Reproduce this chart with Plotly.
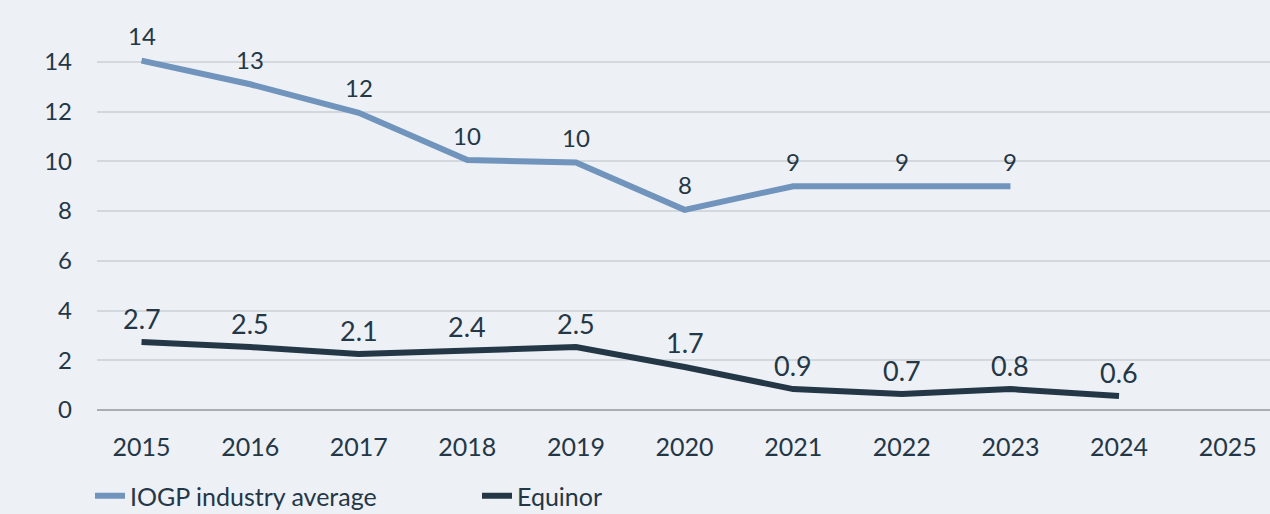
import plotly.graph_objects as go

years = [2015, 2016, 2017, 2018, 2019, 2020, 2021, 2022, 2023, 2024]
iogp_years = [2015, 2016, 2017, 2018, 2019, 2020, 2021, 2022, 2023]
iogp_values = [14.05, 13.1, 11.95, 10.05, 9.95, 8.05, 9.0, 9.0, 9.0]
iogp_labels = ["14", "13", "12", "10", "10", "8", "9", "9", "9"]
equinor_values = [2.73, 2.53, 2.25, 2.41, 2.53, 1.73, 0.84, 0.64, 0.84, 0.56]
equinor_labels = ["2.7", "2.5", "2.1", "2.4", "2.5", "1.7", "0.9", "0.7", "0.8", "0.6"]
tick_years = list(range(2015, 2026))
y_ticks = [0, 2, 4, 6, 8, 10, 12, 14]

BG = "#EDF0F5"
DARK = "#243746"
LIGHT = "#7094BC"
FONT = "Lato"

fig = go.Figure()
fig.add_trace(go.Scatter(x=iogp_years, y=iogp_values, mode="lines",
                         name="IOGP industry average",
                         line=dict(color=LIGHT, width=6)))
fig.add_trace(go.Scatter(x=years, y=equinor_values, mode="lines",
                         name="Equinor",
                         line=dict(color=DARK, width=6)))

for x, y, t in zip(iogp_years, iogp_values, iogp_labels):
    fig.add_annotation(x=x, y=y, text=t, showarrow=False, yshift=25,
                       font=dict(family=FONT, size=24, color=DARK))
for x, y, t in zip(years, equinor_values, equinor_labels):
    fig.add_annotation(x=x, y=y, text=t, showarrow=False, yshift=24,
                       font=dict(family=FONT, size=27, color=DARK))

fig.update_layout(
    width=1270, height=514,
    margin=dict(l=97, r=0, t=37, b=104, autoexpand=False),
    paper_bgcolor=BG, plot_bgcolor=BG,
    font=dict(family=FONT, size=24, color=DARK),
    showlegend=True,
    legend=dict(orientation="h", xref="container", x=90 / 1270, xanchor="left",
                yref="container", y=1 - 496 / 514, yanchor="middle",
                font=dict(family=FONT, size=25, color=DARK),
                entrywidth=342, entrywidthmode="pixels",
                bgcolor="rgba(0,0,0,0)"),
    xaxis=dict(range=[2014.59, 2025.39], tickmode="array", tickvals=tick_years,
               ticktext=[str(v) for v in tick_years], showgrid=False,
               zeroline=False, showline=False, ticks="", ticklabelstandoff=20,
               automargin=False,
               tickfont=dict(family=FONT, size=25, color=DARK)),
    yaxis=dict(range=[0, 15], tickmode="array", tickvals=y_ticks,
               showgrid=True, gridcolor="#D3D8DE", gridwidth=2,
               zeroline=True, zerolinecolor="#A9AEB4", zerolinewidth=2,
               showline=False, ticks="", ticklabelstandoff=24,
               automargin=False,
               tickfont=dict(family=FONT, size=24, color=DARK)),
)

fig.write_html("out.html", config={"displayModeBar": False},
               post_script="document.body.style.margin='0px';document.body.style.overflow='hidden';")
